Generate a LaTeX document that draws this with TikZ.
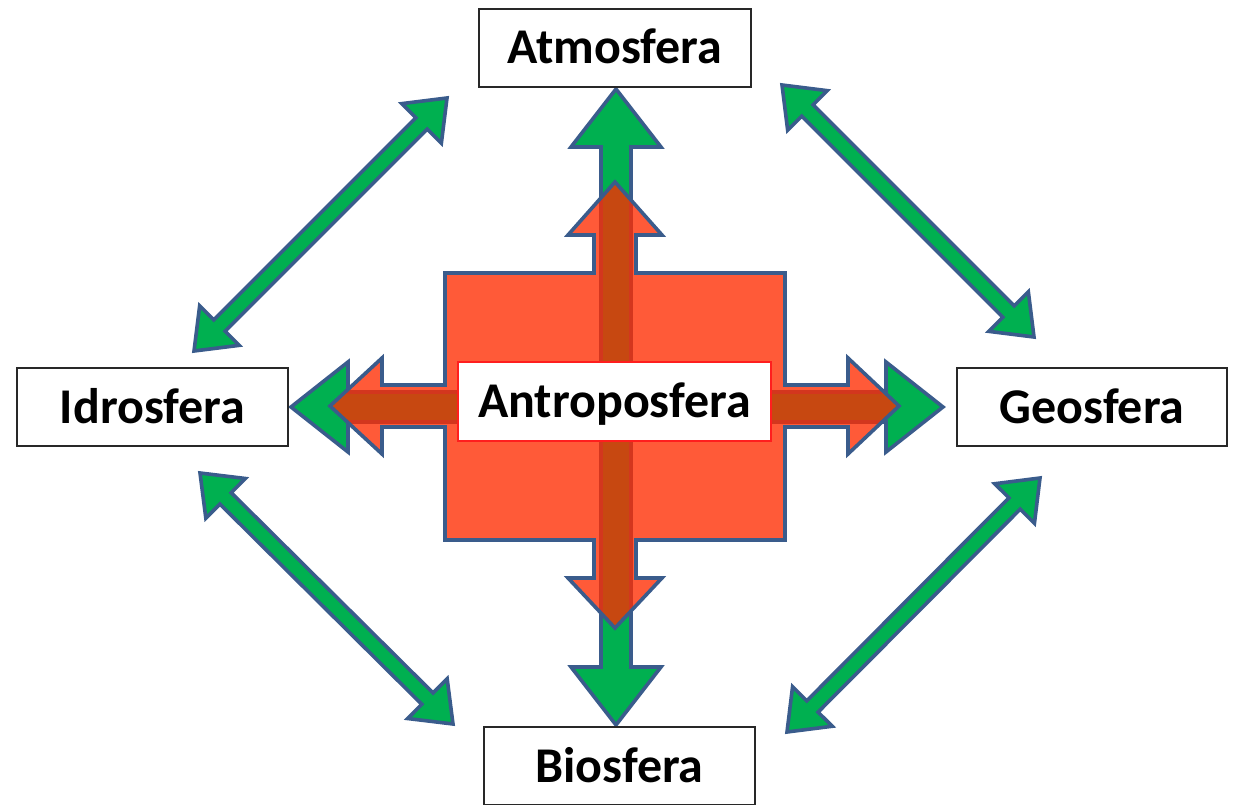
\documentclass[tikz,border=0pt]{standalone}
\usepackage{fontspec}
\setmainfont{Carlito}
\usetikzlibrary{calc}
\definecolor{grn}{RGB}{0,176,80}
\definecolor{outl}{RGB}{58,92,140}
\definecolor{orng}{RGB}{255,44,0}
\definecolor{boxline}{RGB}{40,40,40}
\definecolor{redline}{RGB}{255,30,30}
\pgfdeclarelayer{bg}
\pgfsetlayers{bg,main}
% double arrow polygon: #1 style, #2 tip A, #3 tip B, #4 shaft half width, #5 head half width, #6 head length
\newcommand\dblarr[6]{%
  \coordinate (da1) at ($(#2)!#6!(#3)$);
  \coordinate (da2) at ($(#3)!#6!(#2)$);
  \draw[#1] (#2) -- ($(da1)!#5!90:(#3)$) -- ($(da1)!#4!90:(#3)$)
    -- ($(da2)!#4!-90:(#2)$) -- ($(da2)!#5!-90:(#2)$) -- (#3)
    -- ($(da2)!#5!90:(#2)$) -- ($(da2)!#4!90:(#2)$)
    -- ($(da1)!#4!-90:(#3)$) -- ($(da1)!#5!-90:(#3)$) -- cycle;}
\begin{document}
\begin{tikzpicture}[x=1pt,y=-1pt,
  sphere/.style={draw=boxline, line width=1.5pt, fill=white, inner sep=0pt,
    font=\bfseries\fontsize{50}{56}\selectfont, text height=32pt, text depth=0pt},
  centerbox/.style={sphere, draw=redline, line width=1.2pt},
  greenarrow/.style={fill=grn, draw=outl, line width=3.6pt, line join=miter},
  quadarrow/.style={fill=orng, fill opacity=0.78, draw=outl, draw opacity=1, line width=3.6pt, line join=miter}]
\useasboundingbox (0,0) rectangle (1235,805);
\clip (0,0) rectangle (1235,805);

% sphere boxes
\node[sphere, minimum width=272pt, minimum height=78pt] (atm) at (615,48) {Atmosfera};
\node[sphere, minimum width=271pt, minimum height=78pt] (idr) at (152.5,407) {Idrosfera};
\node[sphere, minimum width=270pt, minimum height=78pt] (geo) at (1092,407) {Geosfera};
\node[sphere, minimum width=271pt, minimum height=78pt] (bio) at (619.5,766) {Biosfera};
\node[centerbox, minimum width=313pt, minimum height=79pt] (ant) at (614.5,401.5) {Antroposfera};

% arrow tips
\coordinate (vA) at (616,89);
\coordinate (vB) at (616,725);
\coordinate (hA) at (291,407);
\coordinate (hB) at (943,407);
\coordinate (tlA) at (194,351);
\coordinate (tlB) at (447,98);
\coordinate (trA) at (782,85);
\coordinate (trB) at (1034,337);
\coordinate (blA) at (200,473);
\coordinate (blB) at (453,724);
\coordinate (brA) at (1040,478);
\coordinate (brB) at (787,732);

\begin{pgfonlayer}{bg}
  \dblarr{greenarrow}{tlA}{tlB}{8pt}{28pt}{36pt}
  \dblarr{greenarrow}{trA}{trB}{8pt}{28pt}{36pt}
  \dblarr{greenarrow}{blA}{blB}{8pt}{28pt}{36pt}
  \dblarr{greenarrow}{brA}{brB}{8pt}{28pt}{36pt}
  \dblarr{greenarrow}{vA}{vB}{15pt}{45pt}{58pt}
  \dblarr{greenarrow}{hA}{hB}{15pt}{45pt}{57pt}
  % quad arrow (square with four arrows)
  \draw[quadarrow] (615,182) -- (662,235) -- (636,235) -- (636,273) -- (785,273)
    -- (785,385) -- (848,385) -- (848,358) -- (899,406) -- (848,454) -- (848,427)
    -- (785,427) -- (785,540) -- (636,540) -- (636,578) -- (662,578) -- (615,628)
    -- (568,578) -- (594,578) -- (594,540) -- (445,540) -- (445,427) -- (382,427)
    -- (382,454) -- (330,406) -- (382,358) -- (382,385) -- (445,385) -- (445,273)
    -- (594,273) -- (594,235) -- (568,235) -- cycle;
\end{pgfonlayer}
\end{tikzpicture}
\end{document}
